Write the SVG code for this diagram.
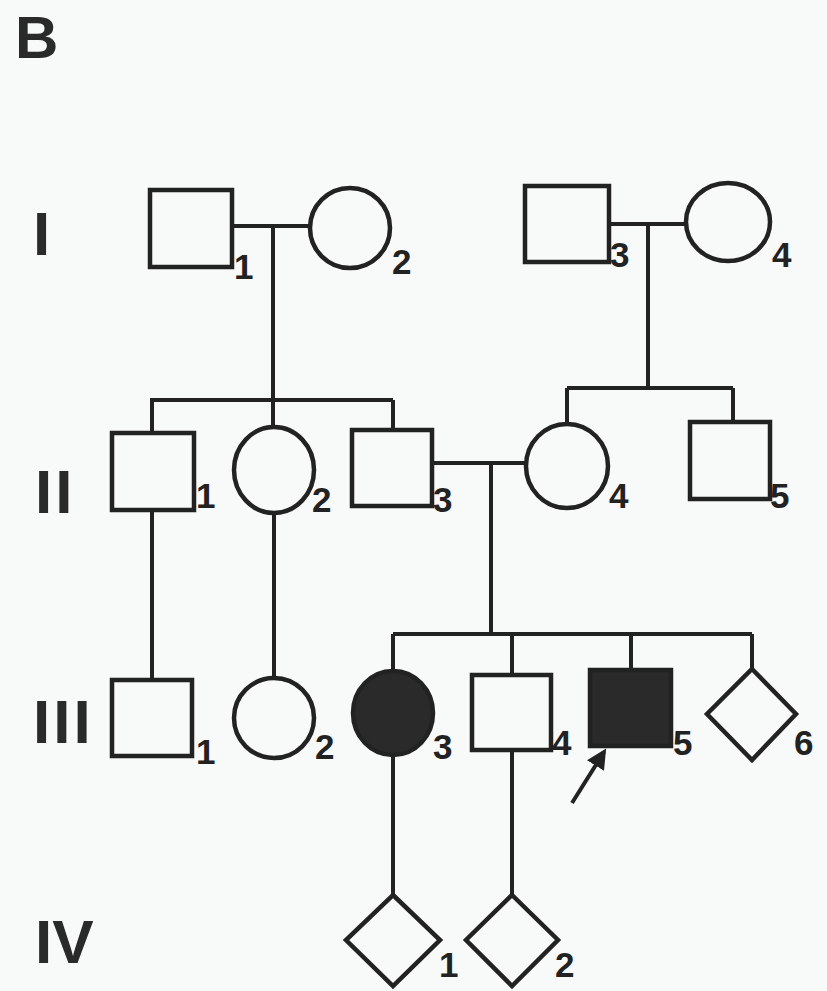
<svg xmlns="http://www.w3.org/2000/svg" width="827" height="991" viewBox="0 0 827 991">
<defs>
<style>
.s{fill:none;stroke:#222;stroke-width:4.5;stroke-linejoin:miter}
.f{fill:#2a2a2a;stroke:#222;stroke-width:4.5}
.l{fill:none;stroke:#222;stroke-width:4}
.n{font-family:"Liberation Sans",Arial,sans-serif;font-weight:bold;font-size:35px;fill:#222}
.g{font-family:"Liberation Sans",Arial,sans-serif;font-weight:bold;font-size:62px;fill:#2a2a2a}
</style>
<marker id="ah" viewBox="0 0 10 10" refX="8" refY="5" markerWidth="5" markerHeight="5" orient="auto"><path d="M0,0 L10,5 L0,10 z" fill="#222"/></marker>
</defs>
<rect width="827" height="991" fill="#f8f9f9"/>
<text class="g" x="15" y="58" style="font-size:60px">B</text>
<text class="g" x="33" y="255">I</text>
<text class="g" x="35" y="513" letter-spacing="3">II</text>
<text class="g" x="33" y="743" letter-spacing="3">III</text>
<text class="g" x="35" y="963">IV</text>

<g id="connectors">
<path class="l" d="M232,226 H310 M273,226 V400 M150,400 H393 M152,400 V433 M273,400 V427 M393,400 V430"/>
<path class="l" d="M609,224 H686 M648,224 V388 M567,388 H733 M567,388 V424 M733,388 V422"/>
<path class="l" d="M432,463 H527 M491,463 V634 M393,634 H752 M393,634 V671 M512,634 V675 M631,634 V670 M752,634 V669"/>
<path class="l" d="M152,510 V680 M274,513 V678"/>
<path class="l" d="M393,755 V895 M512,750 V895"/>
<line class="l" x1="572" y1="803" x2="604" y2="752" marker-end="url(#ah)"/>
</g>

<g id="I-1"><rect class="s" x="150" y="190" width="82" height="77"/><text class="n" x="234" y="279">1</text></g>
<g id="I-2"><ellipse class="s" cx="350" cy="228" rx="40" ry="40"/><text class="n" x="392" y="274">2</text></g>
<g id="I-3"><rect class="s" x="525" y="186" width="84" height="76"/><text class="n" x="610" y="267">3</text></g>
<g id="I-4"><ellipse class="s" cx="728" cy="222" rx="42" ry="39"/><text class="n" x="772" y="267">4</text></g>

<g id="II-1"><rect class="s" x="112" y="433" width="82" height="77"/><text class="n" x="196" y="508">1</text></g>
<g id="II-2"><ellipse class="s" cx="274" cy="470" rx="40" ry="43"/><text class="n" x="312" y="512">2</text></g>
<g id="II-3"><rect class="s" x="352" y="430" width="80" height="76"/><text class="n" x="433" y="512">3</text></g>
<g id="II-4"><ellipse class="s" cx="567" cy="466" rx="41" ry="42"/><text class="n" x="609" y="508">4</text></g>
<g id="II-5"><rect class="s" x="690" y="422" width="80" height="77"/><text class="n" x="770" y="508">5</text></g>

<g id="III-1"><rect class="s" x="112" y="680" width="80" height="76"/><text class="n" x="196" y="764">1</text></g>
<g id="III-2"><ellipse class="s" cx="274" cy="718" rx="40" ry="40"/><text class="n" x="315" y="759">2</text></g>
<g id="III-3"><ellipse class="f" cx="393" cy="713" rx="40" ry="42"/><text class="n" x="433" y="759">3</text></g>
<g id="III-4"><rect class="s" x="472" y="675" width="79" height="75"/><text class="n" x="552" y="755">4</text></g>
<g id="III-5"><rect class="f" x="590" y="670" width="81" height="76"/><text class="n" x="673" y="755">5</text></g>
<g id="III-6"><path class="s" d="M752,669 L796,714 L752,760 L707,714 Z"/><text class="n" x="794" y="755">6</text></g>

<g id="IV-1"><path class="s" d="M393,895 L440,940 L393,986 L346,940 Z"/><text class="n" x="439" y="977">1</text></g>
<g id="IV-2"><path class="s" d="M512,895 L558,940 L512,986 L466,940 Z"/><text class="n" x="555" y="977">2</text></g>
</svg>
